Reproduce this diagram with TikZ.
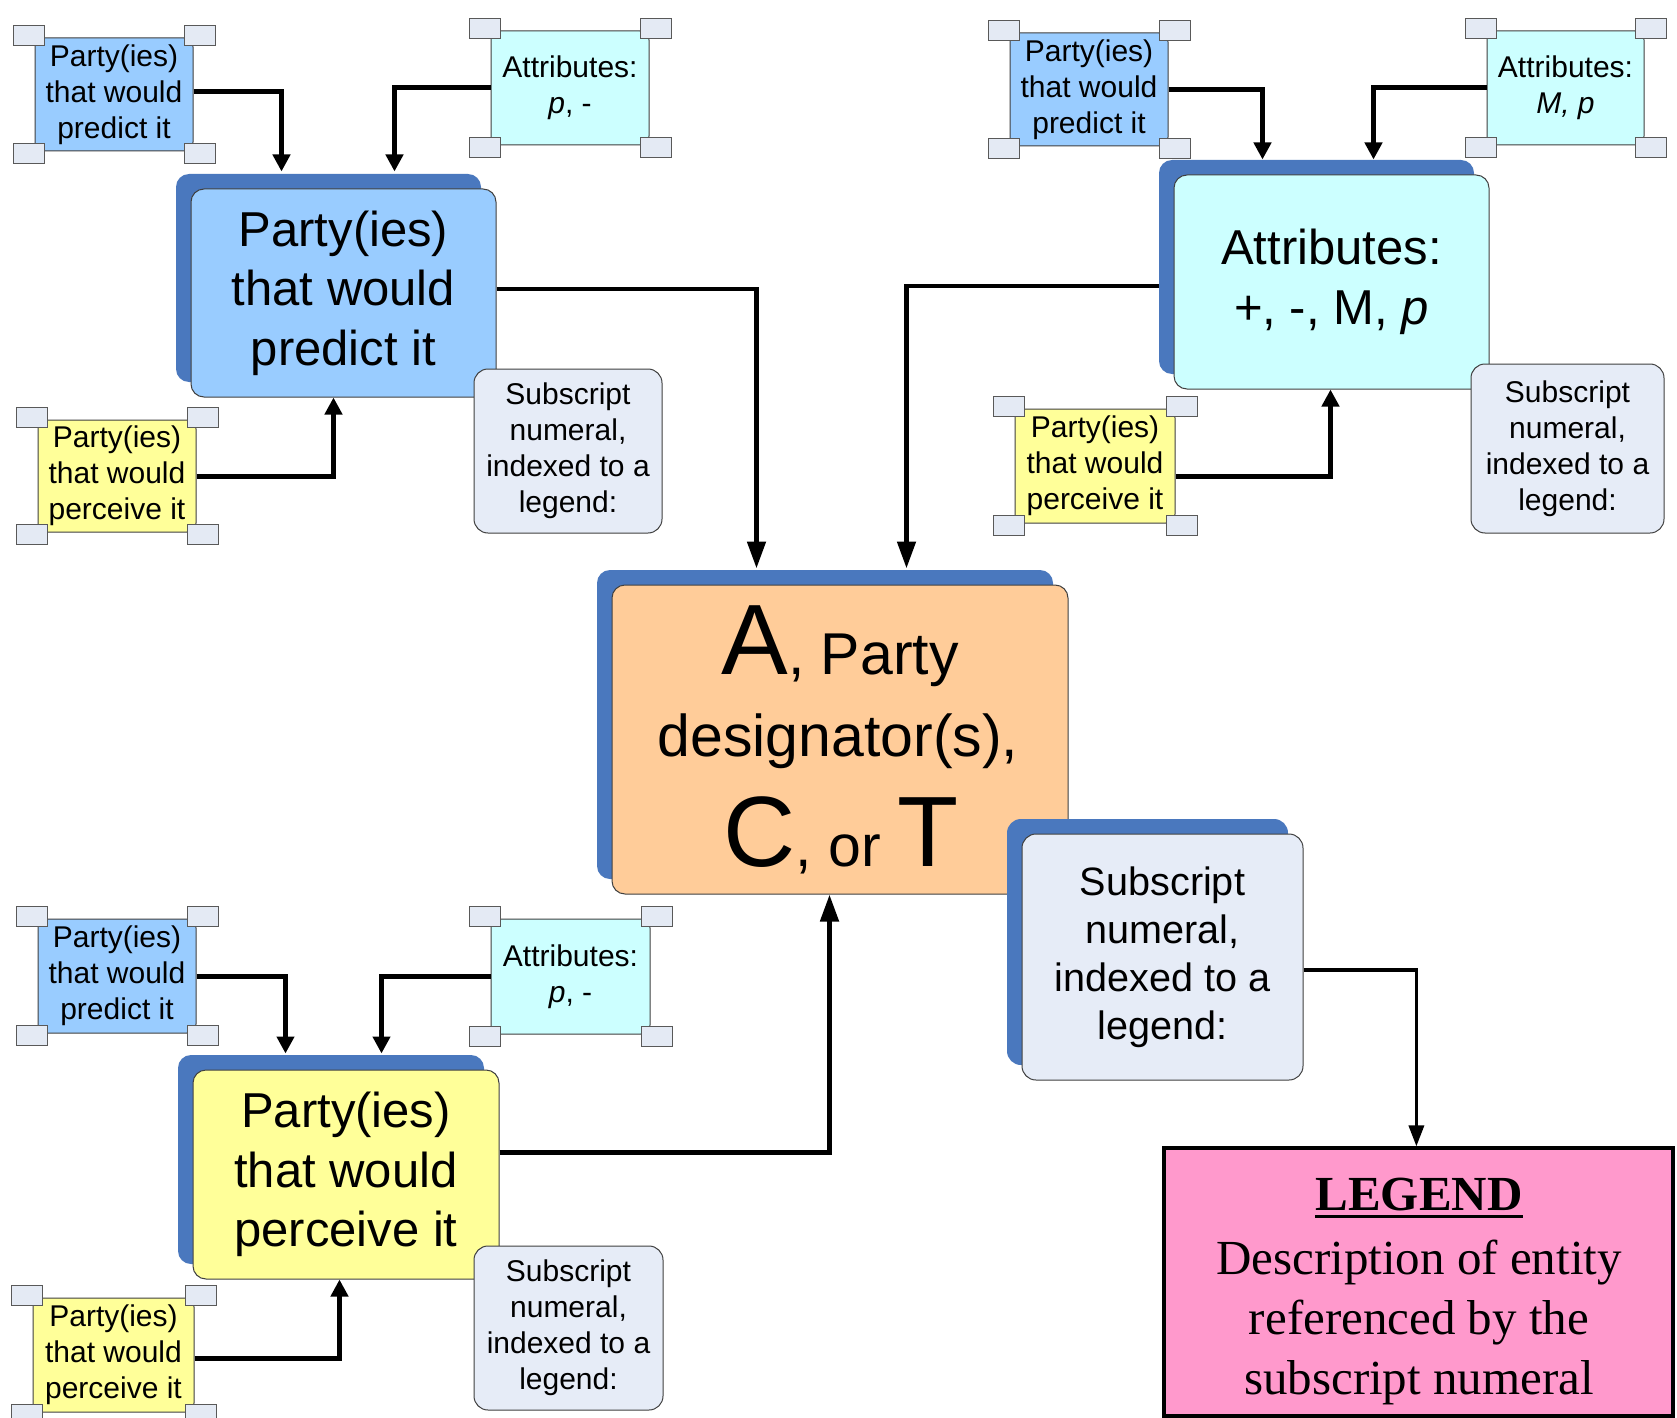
\documentclass[tikz,border=0pt]{standalone}
\usepackage{fontspec}
\setmainfont{Liberation Sans}
\newfontfamily\legendfont{Liberation Serif}
\usetikzlibrary{arrows.meta,shadows}

\definecolor{predblue}{HTML}{99CCFF}
\definecolor{attrcyan}{HTML}{CCFFFF}
\definecolor{percyellow}{HTML}{FFFF99}
\definecolor{centreorange}{HTML}{FFCC99}
\definecolor{subgray}{HTML}{E6ECF7}
\definecolor{backblue}{HTML}{4A78BE}
\definecolor{handlefill}{HTML}{E4EAF4}
\definecolor{legendpink}{HTML}{FF99CC}

\tikzset{
  box/.style={draw=black!75, line width=0.5pt, align=center, inner sep=0pt},
  smallbox/.style={box, rounded corners=4.5pt, font=\fontsize{15}{18}\selectfont},
  subbox/.style={box, fill=subgray, rounded corners=7pt, font=\fontsize{15}{18}\selectfont},
  backed/.style={general shadow={fill=backblue, draw=none, shadow xshift=-7.5pt, shadow yshift=7.5pt}},
  bigbox/.style={box, backed, rounded corners=6.5pt, font=\fontsize{24.5}{29.75}\selectfont},
  bigsub/.style={box, backed, fill=subgray, rounded corners=7pt, font=\fontsize{19.8}{24}\selectfont},
  legendbox/.style={draw=black, line width=1.6pt, fill=legendpink, inner sep=0pt},
  handle/.style={rectangle, draw=black!65, fill=handlefill, line width=0.5pt,
    minimum width=15.5pt, minimum height=10pt, inner sep=0pt},
  conn/.style={line width=2.5pt, -{Triangle[length=8.5pt,width=8.5pt]}},
  longconn/.style={line width=2.4pt, -{Triangle[length=13.5pt,width=9pt]}},
  legconn/.style={line width=1.75pt, -{Triangle[length=10.5pt,width=7.5pt]}},
  linetext/.style={anchor=base, inner sep=0pt},
}

% box given by its corners (x1,y1) (x2,y2) in picture units
\newcommand\placebox[7]{%
  \node[#1, minimum width={(#5-#3)*0.5pt}, minimum height={(#6-#4)*0.5pt}]
    (#2) at ({(#3+#5)/2},{(#4+#6)/2}) {#7};}

% the four grip squares round a small box
\newcommand\handles[1]{%
  \node[handle] (#1-nw) at ([xshift=-3pt,yshift=1pt]#1.north west) {};
  \node[handle] (#1-ne) at ([xshift=3pt,yshift=1pt]#1.north east) {};
  \node[handle] (#1-sw) at ([xshift=-3pt,yshift=-1pt]#1.south west) {};
  \node[handle] (#1-se) at ([xshift=3pt,yshift=-1pt]#1.south east) {};}

\newcommand\predtext{Party(ies)\\that would\\predict it}
\newcommand\perctext{Party(ies)\\that would\\perceive it}
\newcommand\subtext{Subscript\\numeral,\\indexed to a\\legend:}

\begin{document}
\begin{tikzpicture}[x=0.5pt,y=-0.5pt]
\useasboundingbox (0,0) rectangle (1677,1418);
\clip (0,0) rectangle (1677,1418);
\fill[white] (0,0) rectangle (1677,1418);

% ---- upper left group
\placebox{bigbox, fill=predblue}{tlbig}{191}{189}{496}{397}{\predtext}
\placebox{subbox}{tlsub}{474}{369}{662}{533}{\subtext}
\placebox{smallbox, fill=predblue}{tlpred}{35}{38}{193}{151}{\predtext}
\handles{tlpred}
\placebox{smallbox, fill=attrcyan}{tlattr}{491}{31}{649}{145}{Attributes:\\\textit{p}, -}
\handles{tlattr}
\placebox{smallbox, fill=percyellow}{tlperc}{38}{420}{196}{532}{\perctext}
\handles{tlperc}

% ---- upper right group
\placebox{bigbox, fill=attrcyan}{trbig}{1174}{175}{1489}{389}{Attributes:\\+, -, M, \textit{p}}
\placebox{subbox}{trsub}{1471}{364}{1664}{533}{\subtext}
\placebox{smallbox, fill=predblue}{trpred}{1010}{33}{1168}{146}{\predtext}
\handles{trpred}
\placebox{smallbox, fill=attrcyan}{trattr}{1487}{31}{1644}{145}{Attributes:\\\textit{M, p}}
\handles{trattr}
\placebox{smallbox, fill=percyellow}{trperc}{1015}{409}{1175}{523}{\perctext}
\handles{trperc}

% ---- centre
\placebox{bigbox, fill=centreorange}{centre}{612}{585}{1068}{894}{}
\node[linetext] (centreA) at (840,674)
  {\fontsize{50}{50}\selectfont A\fontsize{29.5}{30}\selectfont, Party};
\node[linetext] (centreB) at (838,756)
  {\fontsize{29.5}{30}\selectfont designator(s),};
\node[linetext] (centreC) at (841,866)
  {\fontsize{50}{50}\selectfont C\fontsize{29.5}{30}\selectfont, or \fontsize{50}{50}\selectfont T};
\placebox{bigsub}{csub}{1022}{834}{1303}{1080}{\subtext}

% ---- legend
\placebox{legendbox}{legend}{1164}{1148}{1673}{1416}{}
\node[linetext, font=\legendfont\fontsize{24.5}{30}\selectfont\bfseries] (legtitle) at (1419,1210) {LEGEND};
\draw[line width=1.5pt] ([yshift=-3pt]legtitle.base west) -- ([yshift=-3pt]legtitle.base east);
\node[linetext, font=\legendfont\fontsize{24.5}{30}\selectfont] (legA) at (1419,1274) {Description of entity};
\node[linetext, font=\legendfont\fontsize{24.5}{30}\selectfont] (legB) at (1419,1334) {referenced by the};
\node[linetext, font=\legendfont\fontsize{24.5}{30}\selectfont] (legC) at (1419,1394) {subscript numeral};

% ---- lower left group
\placebox{bigbox, fill=percyellow}{blbig}{193}{1070}{499}{1279}{\perctext}
\placebox{subbox}{blsub}{474}{1246}{663}{1410}{\subtext}
\placebox{smallbox, fill=predblue}{blpred}{38}{919}{196}{1033}{\predtext}
\handles{blpred}
\placebox{smallbox, fill=attrcyan}{blattr}{491}{919}{650}{1034}{Attributes:\\\textit{p}, -}
\handles{blattr}
\placebox{smallbox, fill=percyellow}{blperc}{33}{1298}{194}{1412}{\perctext}
\handles{blperc}

% ---- connectors
\draw[conn] ([yshift=1.5pt]tlpred.east) -| ([shift={(91,-17)}]tlbig.north west);
\draw[conn] (tlattr.west) -| ([shift={(204,-17)}]tlbig.north west);
\draw[conn] (tlperc.east) -| ([shift={(143,0)}]tlbig.south west);
\draw[longconn] ([yshift=2pt]tlbig.east) -| ([shift={(145,-16)}]centre.north west);

\draw[conn] (trpred.east) -| ([shift={(89,-15)}]trbig.north west);
\draw[conn] (trattr.west) -| ([shift={(200,-15)}]trbig.north west);
\draw[conn] ([yshift=-5pt]trperc.east) -| ([shift={(157,0)}]trbig.south west);
\draw[longconn] ([xshift=-7.5pt,yshift=-2pt]trbig.west) -| ([shift={(295,-16)}]centre.north west);

\draw[conn] (blpred.east) -| ([shift={(93,-16)}]blbig.north west);
\draw[conn] (blattr.west) -| ([shift={(189,-16)}]blbig.north west);
\draw[conn] ([yshift=-1.5pt]blperc.east) -| ([shift={(147,0)}]blbig.south west);
\draw[longconn] ([yshift=11pt]blbig.east) -| ([shift={(218,0)}]centre.south west);

\draw[legconn] ([yshift=-6.5pt]csub.east) -| ([shift={(254,0)}]legend.north west);
\end{tikzpicture}
\end{document}
